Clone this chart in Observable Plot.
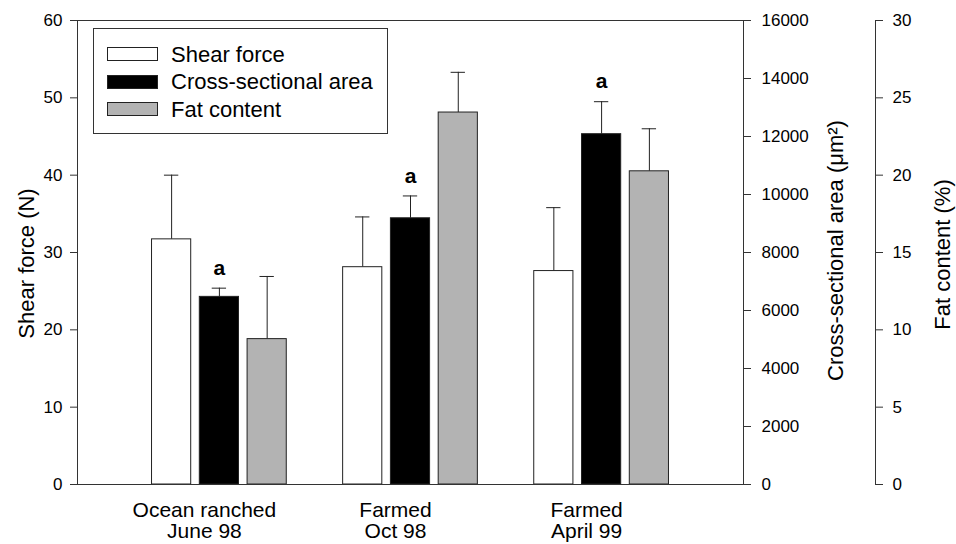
<!DOCTYPE html>
<html><head><meta charset="utf-8">
<script src="https://cdn.jsdelivr.net/npm/d3@7"></script>
<script src="https://cdn.jsdelivr.net/npm/@observablehq/plot@0.6"></script>
<style>
body{margin:0;background:#fff;font-family:"Liberation Sans",Arial,sans-serif;}
#chart{position:relative;width:956px;height:544px;}
#legend{position:absolute;left:93px;top:28px;width:295px;height:106px;border:1px solid #333;box-sizing:border-box;background:#fff;}
.sw{position:absolute;left:13px;width:51px;height:14px;border:1px solid #222;box-sizing:border-box;}
.lt{position:absolute;left:77px;font-size:22px;line-height:22px;white-space:nowrap;color:#000;}
</style></head><body><div id="chart"></div><script>
const groups = ["Ocean ranched\nJune 98", "Farmed\nOct 98", "Farmed\nApril 99"];
const seriesNames = ["Shear force", "Cross-sectional area", "Fat content"];
const seriesColors = ["#ffffff", "#000000", "#b3b3b3"];
const shearForce = [31.7, 28.1, 27.6];
const shearForceErr = [8.3, 6.5, 8.2];
const crossArea = [6470, 9180, 12080];
const crossAreaErr = [300, 770, 1120];
const fatContent = [9.4, 24.05, 20.25];
const fatContentErr = [4.05, 2.6, 2.75];
const areaSignif = ["a", "a", "a"];
const shearTicks = [0, 10, 20, 30, 40, 50, 60];
const areaTicks = [0, 2000, 4000, 6000, 8000, 10000, 12000, 14000, 16000];
const fatTicks = [0, 5, 10, 15, 20, 25, 30];

const areaK = 60 / 16000, fatK = 60 / 30;
const seriesData = [[shearForce, shearForceErr, 1], [crossArea, crossAreaErr, areaK], [fatContent, fatContentErr, fatK]];
const rows = [];
groups.forEach((g, i) => {
  seriesData.forEach(([v, e, k], s) => {
    rows.push({group: g, gi: i, series: seriesNames[s], pos: 4 * i + s, y: v[i] * k, top: (v[i] + e[i]) * k});
  });
});
const areaRows = rows.filter(d => d.series === seriesNames[1]);

const plot = Plot.plot({
  width: 956, height: 544,
  marginLeft: 77, marginRight: 213, marginTop: 20, marginBottom: 60,
  x: {domain: [-1.97, 11.97], axis: null},
  y: {domain: [0, 60], axis: null},
  color: {domain: seriesNames, range: seriesColors},
  style: {fontFamily: "Liberation Sans, Arial, sans-serif", background: "white", color: "black", overflow: "visible"},
  marks: [
    Plot.ruleX(rows, {x: "pos", y1: "y", y2: "top", stroke: "#222"}),
    Plot.ruleY(rows, {y: "top", x1: d => d.pos - 0.15, x2: d => d.pos + 0.15, stroke: "#222"}),
    Plot.rectY(rows, {x1: d => d.pos - 0.41, x2: d => d.pos + 0.41, y1: 0, y2: "y", fill: "series", stroke: "#222", strokeWidth: 1}),
    Plot.text(areaRows, {x: "pos", y: "top", text: d => areaSignif[d.gi], dy: -20, fontSize: 21, fontWeight: "bold"}),
    Plot.frame({stroke: "#333"}),
    Plot.axisY(shearTicks, {anchor: "left", tickSize: 7, tickPadding: 8, fontSize: 17, label: null, stroke: "#333"}),
    Plot.axisY(areaTicks.map(v => v * areaK), {anchor: "right", tickSize: 7, tickPadding: 11, fontSize: 17, label: null, stroke: "#333", tickFormat: d => String(Math.round(d / areaK))}),
    Plot.axisY(fatTicks.map(v => v * fatK), {anchor: "right", dx: 132, tickSize: 7, tickPadding: 10, fontSize: 17, label: null, stroke: "#333", tickFormat: d => String(Math.round(d / fatK))}),
    Plot.frame({anchor: "right", dx: 132, stroke: "#333"}),
    Plot.text(["Shear force (N)"], {text: d => d, frameAnchor: "left", textAnchor: "middle", dx: -51, dy: 11, rotate: -90, fontSize: 22}),
    Plot.text(["Cross-sectional area (\u03BCm\u00B2)"], {text: d => d, frameAnchor: "right", textAnchor: "middle", dx: 92, dy: -2, rotate: -90, fontSize: 22}),
    Plot.text(["Fat content (%)"], {text: d => d, frameAnchor: "right", textAnchor: "middle", dx: 199, dy: 2, rotate: -90, fontSize: 22}),
    Plot.text(groups, {x: (d, i) => 4 * i + 1, text: d => d, frameAnchor: "bottom", lineAnchor: "top", dy: 18, dx: -15, fontSize: 21, lineHeight: 1.0})
  ]
});
const chart = document.getElementById("chart");
chart.appendChild(plot);

const legend = document.createElement("div");
legend.id = "legend";
seriesNames.forEach((name, i) => {
  const sw = document.createElement("div");
  sw.className = "sw";
  sw.style.top = (18 + i * 27.5) + "px";
  sw.style.background = seriesColors[i];
  legend.appendChild(sw);
  const t = document.createElement("div");
  t.className = "lt";
  t.style.top = (14.5 + i * 27.5) + "px";
  t.textContent = name;
  legend.appendChild(t);
});
chart.appendChild(legend);
</script></body></html>
